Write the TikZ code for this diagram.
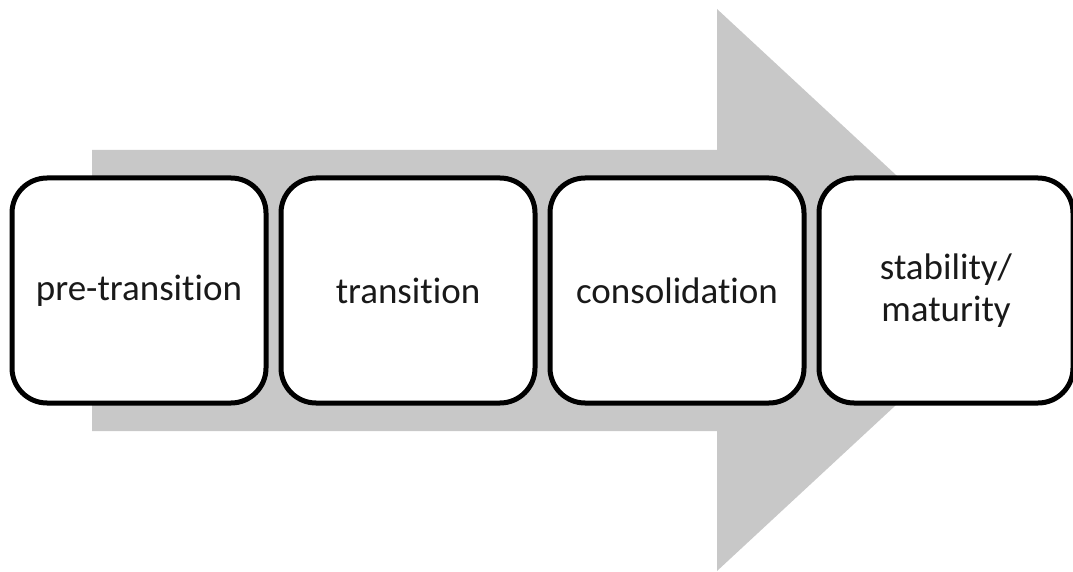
\documentclass[tikz,border=0pt]{standalone}
\usepackage{fontspec}
\setmainfont{Carlito}[Ligatures=NoCommon]
\definecolor{arrowgray}{RGB}{200,200,200}
\begin{document}
\begin{tikzpicture}[x=1pt,y=-1pt,
  stage/.style={draw=black, line width=5pt, fill=white, rounded corners=35pt,
    minimum width=254pt, minimum height=225pt, inner sep=0pt, align=center,
    font=\fontsize{37}{42}\selectfont, text=black!90}]
\useasboundingbox (0,0) rectangle (1073,572);
\fill[arrowgray] (92,150) -- (717,150) -- (717,9) -- (1020,290) -- (717,571) -- (717,431) -- (92,431) -- cycle;
\node[stage] (s1) at (139,290.5) {pre-transition};
\node[stage] (s2) at (408,290.5) {transition};
\node[stage] (s3) at (677,290.5) {consolidation};
\node[stage] (s4) at (946,290.5) {stability/\\maturity};
\end{tikzpicture}
\end{document}
